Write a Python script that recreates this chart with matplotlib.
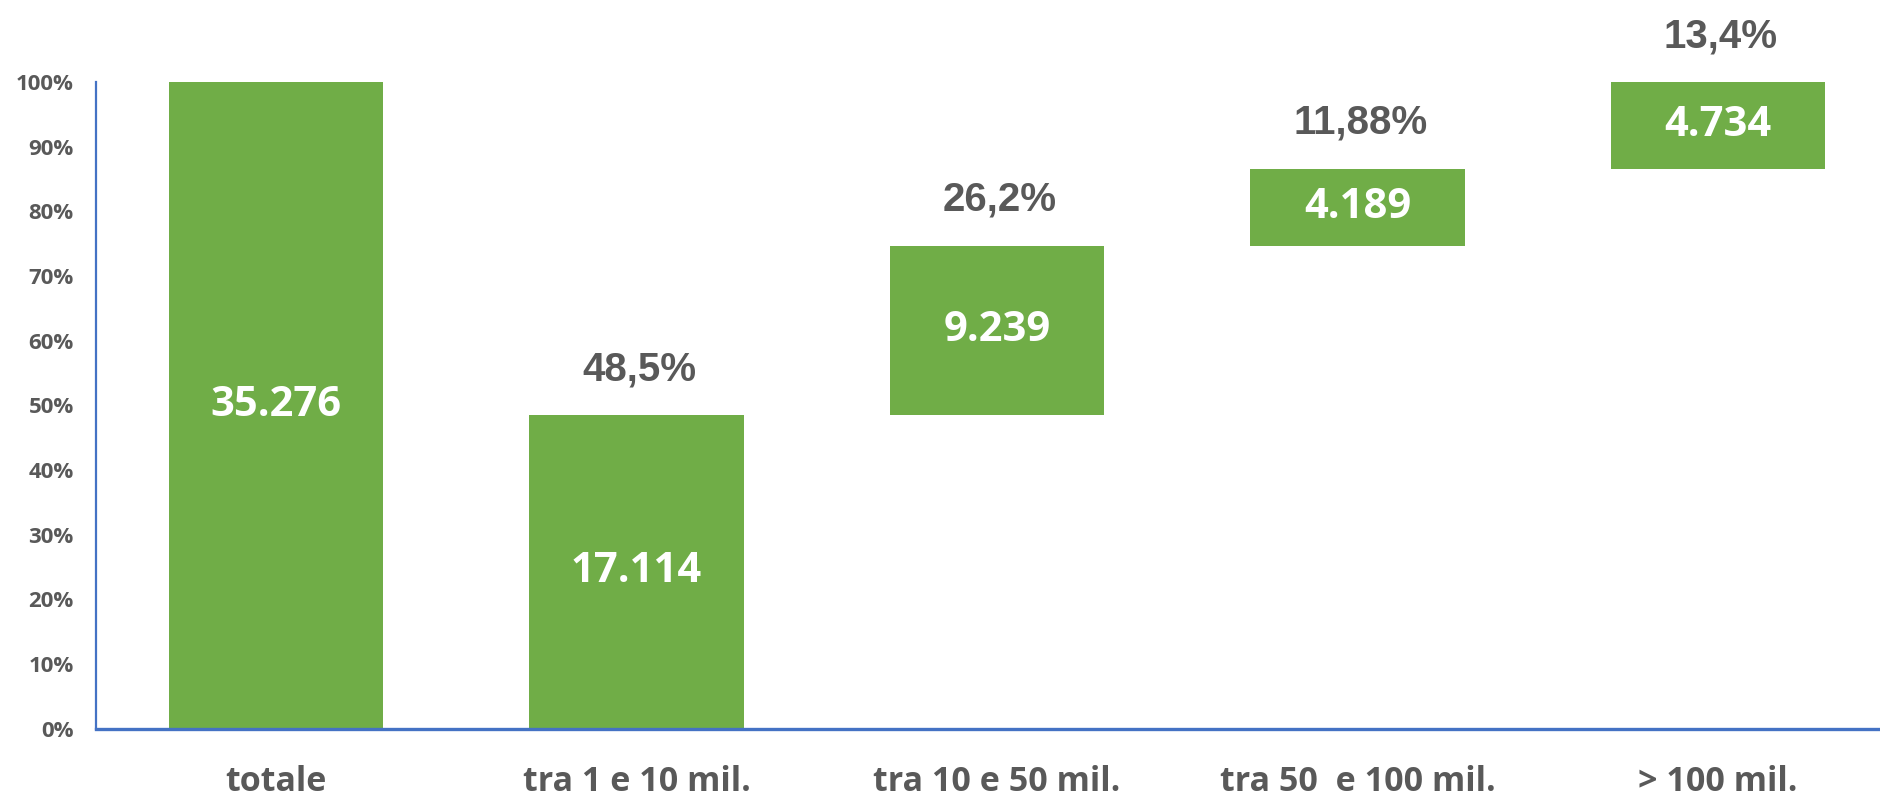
import matplotlib
matplotlib.use("Agg")
import matplotlib.pyplot as plt
import numpy as np

categories = ["totale", "tra 1 e 10 mil.", "tra 10 e 50 mil.", "tra 50  e 100 mil.", "> 100 mil."]
counts = ["35.276", "17.114", "9.239", "4.189", "4.734"]
shares = [100.0, 48.5, 26.2, 11.88, 13.4]
share_labels = ["", "48,5%", "26,2%", "11,88%", "13,4%"]
yticks = [0, 10, 20, 30, 40, 50, 60, 70, 80, 90, 100]

green = "#70AD47"
gray = "#595959"
blue = "#4472C4"

fig = plt.figure(figsize=(18.8, 8.0), dpi=100)
ax = fig.add_axes([0.051, 0.089, 0.949, 0.8085])

x = np.arange(len(categories))
heights = [s / 100 for s in shares]
bottoms = [0.0]
cum = 0.0
for h in heights[1:]:
    bottoms.append(cum)
    cum += h
bottoms = bottoms[:len(heights)]
heights[-1] = 1.0 - bottoms[-1]

ax.bar(x, heights, bottom=bottoms, width=0.595, color=green, zorder=2)

for xi, b, h, c, p in zip(x, bottoms, heights, counts, share_labels):
    ax.text(xi, b + h / 2, c, ha="center", va="center", color="white",
            fontsize=30, fontweight="bold", family="Open Sans")
    if p:
        ax.annotate(p, xy=(xi, b + h), xytext=(2, 33), textcoords="offset points",
                    ha="center", va="center", color=gray, fontsize=29,
                    fontweight="bold", family="Liberation Sans", annotation_clip=False)

ax.set_xlim(-0.5, 4.45)
ax.set_ylim(0, 1)
ax.set_yticks([t / 100 for t in yticks])
ax.set_yticklabels([f"{t}%" for t in yticks], fontsize=16, fontweight="bold",
                   color=gray, family="Open Sans")
ax.set_xticks(x)
ax.set_xticklabels(categories, fontsize=24.5, fontweight="bold", color=gray, family="Open Sans")
ax.tick_params(axis="y", length=0, pad=16)
ax.tick_params(axis="x", length=0, pad=26)

for s in ["top", "right"]:
    ax.spines[s].set_visible(False)
ax.spines["left"].set_color(blue)
ax.spines["left"].set_linewidth(1.6)
ax.spines["bottom"].set_color(blue)
ax.spines["bottom"].set_linewidth(2.4)

fig.savefig("out.png", dpi=100)
